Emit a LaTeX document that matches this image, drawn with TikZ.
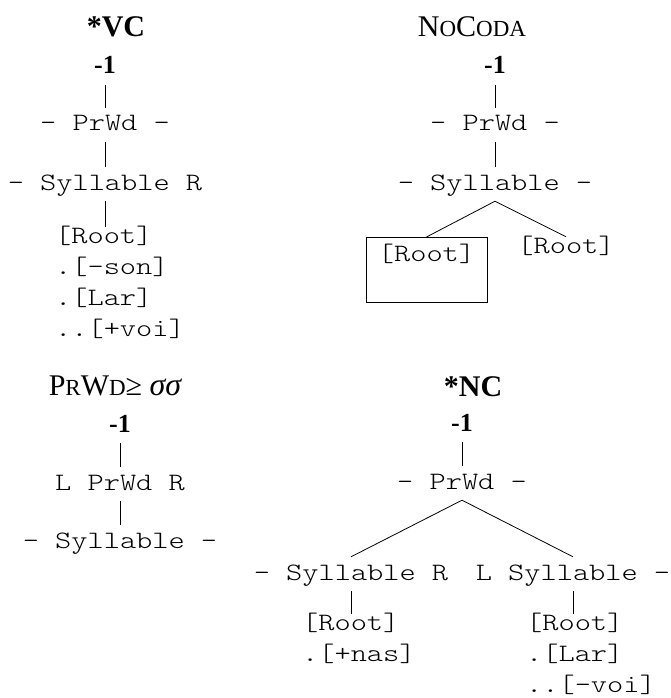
\documentclass[tikz,border=0pt]{standalone}
\usepackage{fontspec}
\setmainfont{Liberation Serif}
\setmonofont[FakeStretch=1.234]{lmmonolt10-regular.otf}
\newcommand\fakesc[1]{{\fontsize{23}{25}\selectfont #1}}
\newcommand\bigsig[1]{{\fontsize{32}{34}\selectfont\itshape #1}}
\begin{document}
\begin{tikzpicture}[x=1pt,y=-1pt,
  title/.style={font=\fontsize{30}{33}\selectfont, inner sep=0pt, anchor=base},
  score/.style={font=\fontsize{26}{28}\selectfont\bfseries, inner sep=0pt, text depth=11pt, anchor=base},
  mono/.style={font=\fontsize{25}{28}\selectfont\ttfamily, inner sep=0pt, text height=23pt, text depth=11pt, anchor=base},
  feat/.style={font=\fontsize{25}{28}\selectfont\ttfamily, inner sep=0pt, text height=16pt, text depth=5pt, anchor=base west},
  froot/.style={font=\fontsize{25}{28}\selectfont\ttfamily, inner sep=0pt, text height=16pt, text depth=5pt, anchor=base},
  boxed/.style={draw=black, line width=0.8pt, font=\fontsize{25}{28}\selectfont\ttfamily, inner sep=0pt, minimum width=121pt, text height=24pt, text depth=41pt, anchor=north},
  link/.style={draw=black, line width=0.8pt},
]
\useasboundingbox (0,0) rectangle (670,698);

% Panel 1: *VC
\node[title] (t1) at (116,37) {\bfseries *VC};
\node[score] (m1) at (105,74) {-1};
\node[mono] (p1) at (105,131) {- PrWd -};
\node[mono] (s1) at (105,190) {- Syllable R};
\node[feat] (r1) at (55,243) {[Root]};
\node[feat] (f1a) at (55,274) {.[-son]};
\node[feat] (f1b) at (55,305) {.[Lar]};
\node[feat] (f1c) at (55,336) {..[+voi]};
\draw[link] (m1.south) -- (p1.north);
\draw[link] (p1.south) -- (s1.north);
\draw[link] (s1.south) -- (s1.south |- r1.north);

% Panel 2: NoCoda
\node[title] (t2) at (472,37) {N\fakesc{O}C\fakesc{ODA}};
\node[score] (m2) at (495,74) {-1};
\node[mono] (p2) at (495,131) {- PrWd -};
\node[mono] (s2) at (495,190) {- Syllable -};
\node[boxed] (box) at (426.5,237) {[Root]};
\node[froot] (r2) at (566,253) {[Root]};
\draw[link] (m2.south) -- (p2.north);
\draw[link] (p2.south) -- (s2.north);
\draw[link] (s2.south) -- (box.north);
\draw[link] (s2.south) -- (r2.north);

% Panel 3: PrWd >= sigma sigma
\node[title] (t3) at (115,395) {P\fakesc{R}W\fakesc{D}≥ \bigsig{σσ}};
\node[score] (m3) at (120,432) {-1};
\node[mono] (p3) at (120,490) {L PrWd R};
\node[mono] (s3) at (120,548) {- Syllable -};
\draw[link] (m3.south) -- (p3.north);
\draw[link] (p3.south) -- (s3.north);

% Panel 4: *NC
\node[title] (t4) at (473,396) {\bfseries *NC};
\node[score] (m4) at (462,431) {-1};
\node[mono] (p4) at (462,489) {- PrWd -};
\node[mono] (sl) at (351,580) {- Syllable R};
\node[mono] (sr) at (573,580) {L Syllable -};
\node[feat] (rl) at (302,630) {[Root]};
\node[feat] (fl) at (302,661) {.[+nas]};
\node[feat] (rr) at (526,630) {[Root]};
\node[feat] (fra) at (526,661) {.[Lar]};
\node[feat] (frb) at (526,692) {..[-voi]};
\draw[link] (m4.south) -- (p4.north);
\draw[link] (p4.south) -- (sl.north);
\draw[link] (p4.south) -- (sr.north);
\draw[link] (sl.south) -- (sl.south |- rl.north);
\draw[link] (sr.south) -- (sr.south |- rr.north);
\end{tikzpicture}
\end{document}
